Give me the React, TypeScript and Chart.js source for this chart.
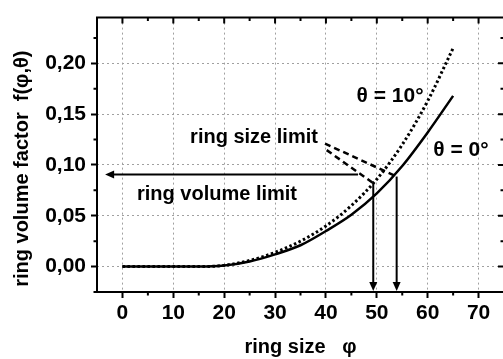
import React, { useEffect, useRef } from 'react';
import { Chart, registerables } from 'chart.js';

Chart.register(...registerables);

// ---- data ----
const ringSizes = [0, 5, 10, 15, 20, 25, 30, 35, 40, 45, 50, 55, 60, 65];
const factorTheta0 = [0, 0, 0, 0, 0.001, 0.005, 0.012, 0.021, 0.035, 0.051, 0.072, 0.099, 0.132, 0.168];
const factorTheta10 = [0, 0, 0, 0, 0.0012, 0.006, 0.014, 0.025, 0.04, 0.06, 0.086, 0.12, 0.163, 0.215];

const xTickValues = [0, 10, 20, 30, 40, 50, 60, 70];
const yTickValues = [0, 0.05, 0.1, 0.15, 0.2];
const xMinorTicks = [5, 15, 25, 35, 45, 55, 65];
const yMinorTicks = [-0.025, 0.025, 0.075, 0.125, 0.175, 0.225];

const xMin = -5;
const xMax = 75;
const yMin = -0.025;
const yMax = 0.245;

// annotation values (data coordinates)
const ringVolumeLimit = 0.0906;
const volumeArrowFrom = 46.3;
const volumeArrowTo = -3.4;
const sizeLimitX = [49.3, 53.9];
const sizeLimitTop = [0.0821, 0.0886];
const sizeLabelAnchorX = [40.15, 39.82];
const sizeLabelAnchorY = [0.1146, 0.121];
const noteTexts = ['θ = 10°', 'θ = 0°', 'ring size limit', 'ring volume limit'];
const noteX = [52.6, 66.55, 25.86, 18.59];
const noteY = [0.1676, 0.1149, 0.1275, 0.0712];

const FONT_FAMILY = '"Liberation Sans", Arial, Helvetica, sans-serif';
const font = { family: FONT_FAMILY, size: 20, weight: 'bold' as const };
const tickFont = { family: FONT_FAMILY, size: 21, weight: 'bold' as const };

function arrowHead(ctx: CanvasRenderingContext2D, x: number, y: number, dx: number, dy: number) {
  const len = 9;
  const hw = 4;
  const px = -dy;
  const py = dx;
  ctx.beginPath();
  ctx.moveTo(x, y);
  ctx.lineTo(x - dx * len + px * hw, y - dy * len + py * hw);
  ctx.lineTo(x - dx * len - px * hw, y - dy * len - py * hw);
  ctx.closePath();
  ctx.fill();
}

const framePlugin = {
  id: 'frame',
  afterDraw(chart: any) {
    const { ctx, chartArea: a, scales } = chart;
    const xs = scales.x;
    const ys = scales.y;
    ctx.save();
    ctx.strokeStyle = '#000';
    ctx.fillStyle = '#000';
    ctx.lineWidth = 2;
    ctx.setLineDash([]);
    // frame
    ctx.beginPath();
    ctx.moveTo(a.left, a.top);
    ctx.lineTo(a.right, a.top);
    ctx.lineTo(a.right, a.bottom);
    ctx.lineTo(a.left, a.bottom);
    ctx.closePath();
    ctx.stroke();

    // top axis ticks (inward), bottom minor ticks (outward)
    ctx.beginPath();
    for (const v of xTickValues) {
      const px = xs.getPixelForValue(v);
      ctx.moveTo(px, a.top);
      ctx.lineTo(px, a.top + 6);
    }
    for (const v of xMinorTicks) {
      const px = xs.getPixelForValue(v);
      ctx.moveTo(px, a.top);
      ctx.lineTo(px, a.top + 3.5);
      ctx.moveTo(px, a.bottom);
      ctx.lineTo(px, a.bottom + 3.5);
    }
    // right axis ticks (inward), left minor ticks (outward)
    for (const v of yTickValues) {
      const py = ys.getPixelForValue(v);
      ctx.moveTo(a.right, py);
      ctx.lineTo(a.right - 6, py);
    }
    for (const v of yMinorTicks) {
      const py = ys.getPixelForValue(v);
      ctx.moveTo(a.right, py);
      ctx.lineTo(a.right - 3.5, py);
      ctx.moveTo(a.left, py);
      ctx.lineTo(a.left - 3.5, py);
    }
    ctx.stroke();

    // ring volume limit arrow
    const hy = ys.getPixelForValue(ringVolumeLimit);
    const hx1 = xs.getPixelForValue(volumeArrowFrom);
    const hx2 = xs.getPixelForValue(volumeArrowTo);
    ctx.beginPath();
    ctx.moveTo(hx1, hy);
    ctx.lineTo(hx2 + 6, hy);
    ctx.stroke();
    arrowHead(ctx, hx2, hy, -1, 0);

    // ring size limit arrows
    for (let i = 0; i < sizeLimitX.length; i++) {
      const vx = xs.getPixelForValue(sizeLimitX[i]);
      const vt = ys.getPixelForValue(sizeLimitTop[i]);
      const vb = a.bottom - 1;
      ctx.setLineDash([]);
      ctx.lineWidth = 2;
      ctx.beginPath();
      ctx.moveTo(vx, vt);
      ctx.lineTo(vx, vb - 6);
      ctx.stroke();
      arrowHead(ctx, vx, vb, 0, 1);
      // dashed leader from label
      ctx.setLineDash([6, 4]);
      ctx.lineWidth = 2.5;
      ctx.beginPath();
      ctx.moveTo(xs.getPixelForValue(sizeLabelAnchorX[i]), ys.getPixelForValue(sizeLabelAnchorY[i]));
      ctx.lineTo(vx, vt);
      ctx.stroke();
    }
    ctx.setLineDash([]);

    // texts
    ctx.textAlign = 'center';
    ctx.textBaseline = 'middle';
    for (let i = 0; i < noteTexts.length; i++) {
      ctx.font = `bold ${i < 2 ? 21 : 20}px ${FONT_FAMILY}`;
      ctx.fillText(noteTexts[i], xs.getPixelForValue(noteX[i]), ys.getPixelForValue(noteY[i]));
    }
    ctx.restore();
  },
};

export default function App() {
  const ref = useRef<HTMLCanvasElement | null>(null);
  useEffect(() => {
    if (!ref.current) return;
    const chart = new Chart(ref.current, {
      type: 'line',
      data: {
        datasets: [
          {
            label: 'θ = 0°',
            data: ringSizes.map((x, i) => ({ x, y: factorTheta0[i] })),
            borderColor: '#000',
            borderWidth: 2.5,
            pointRadius: 0,
            fill: false,
            cubicInterpolationMode: 'monotone',
          },
          {
            label: 'θ = 10°',
            data: ringSizes.map((x, i) => ({ x, y: factorTheta10[i] })),
            borderColor: '#000',
            borderWidth: 3,
            borderDash: [2.5, 2.5],
            pointRadius: 0,
            fill: false,
            cubicInterpolationMode: 'monotone',
          },
        ],
      },
      options: {
        animation: false,
        responsive: false,
        devicePixelRatio: 1,
        layout: { padding: { top: 14, right: 2, left: 0, bottom: 0 } },
        plugins: { legend: { display: false }, tooltip: { enabled: false } },
        scales: {
          x: {
            type: 'linear',
            min: xMin,
            max: xMax,
            afterBuildTicks: (s: any) => {
              s.ticks = xTickValues.map((value) => ({ value }));
            },
            ticks: {
              autoSkip: false,
              maxRotation: 0,
              color: '#000',
              font: tickFont,
              padding: 3,
              callback: (v: any) => String(v),
            },
            grid: {
              color: '#a0a0a0',
              lineWidth: 1,
              drawTicks: true,
              tickLength: 6,
              tickColor: '#000',
              tickWidth: 2,
            },
            border: { display: false, dash: [2, 3] },
            title: {
              display: true,
              text: 'ring size   φ',
              color: '#000',
              font,
              padding: { top: 0, bottom: 0 },
            },
            afterFit: (s: any) => {
              s.height = 67;
            },
          },
          y: {
            type: 'linear',
            min: yMin,
            max: yMax,
            afterBuildTicks: (s: any) => {
              s.ticks = yTickValues.map((value) => ({ value }));
            },
            ticks: {
              color: '#000',
              font: tickFont,
              padding: 5,
              callback: (v: any) => Number(v).toFixed(2).replace('.', ','),
            },
            grid: {
              color: '#a0a0a0',
              lineWidth: 1,
              drawTicks: true,
              tickLength: 6,
              tickColor: '#000',
              tickWidth: 2,
            },
            border: { display: false, dash: [2, 3] },
            title: {
              display: true,
              text: 'ring volume factor  f(φ,θ)     ',
              color: '#000',
              font,
              padding: { top: 10, bottom: 0 },
            },
            afterFit: (s: any) => {
              s.width = 97;
            },
          },
        },
      },
      plugins: [framePlugin],
    });
    return () => chart.destroy();
  }, []);
  return (
    <div style={{ position: 'fixed', left: 0, top: 0, width: 503, height: 359, overflow: 'hidden', background: '#fff' }}>
      <canvas ref={ref} width={506} height={359} style={{ display: 'block', width: 506, height: 359 }} />
    </div>
  );
}
